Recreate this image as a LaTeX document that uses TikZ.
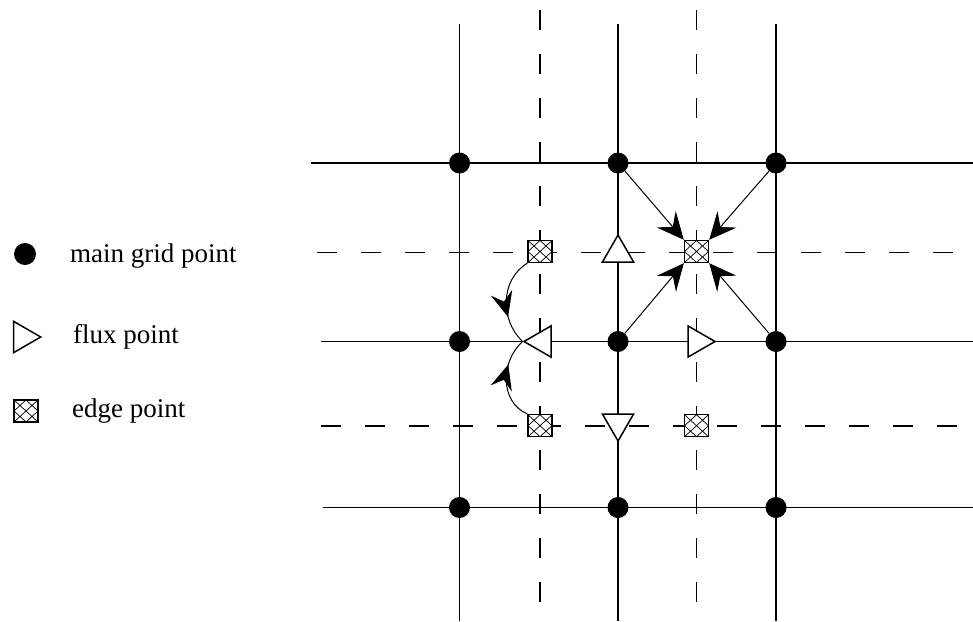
\documentclass[tikz,border=0pt]{standalone}
\usepackage{fontspec}
\setmainfont{Liberation Serif}
\usetikzlibrary{arrows.meta,shapes.geometric,decorations.markings}
\begin{document}
\begin{tikzpicture}[x=1pt,y=-1pt,
  gridline/.style={line width=1.8pt},
  dashline/.style={line width=1.8pt, dash pattern=on 20pt off 24pt},
  gp/.style={circle, fill=black, minimum size=21pt, inner sep=0pt},
  fluxpt/.style={regular polygon, regular polygon sides=3, draw, fill=white, line width=1.5pt, minimum size=36pt, inner sep=0pt},
  edgept/.style={rectangle, draw, fill=white, line width=1.4pt, minimum width=24pt, minimum height=22pt, inner sep=0pt,
    path picture={\draw[line width=0.7pt]
      (path picture bounding box.south west) -- (path picture bounding box.north east)
      (path picture bounding box.north west) -- (path picture bounding box.south east)
      (path picture bounding box.north) -- (path picture bounding box.east) -- (path picture bounding box.south) -- (path picture bounding box.west) -- cycle;}},
  flow/.style={line width=1pt, -{Stealth[length=27pt,width=25pt,inset=10pt]}},
  curveflow/.style={line width=1pt, postaction={decorate},
    decoration={markings, mark=at position #1 with {\arrow{Stealth[length=25pt,width=22pt,inset=9pt]}}}},
  lbl/.style={anchor=base west, inner sep=0pt, font=\fontsize{27}{30}\selectfont},
]
\useasboundingbox (0,0) rectangle (973,621);

% solid grid lines
\draw[gridline] (310.7,163) -- (973,163);
\draw[gridline] (320.7,341.5) -- (973,341.5);
\draw[gridline] (322.7,507.5) -- (973,507.5);
\draw[gridline] (459.5,24) -- (459.5,621);
\draw[gridline] (618,24) -- (618,621);
\draw[gridline] (776,24) -- (776,621);
% dashed grid lines
\draw[dashline] (316.7,252.5) -- (973,252.5);
\draw[dashline] (320.7,425.7) -- (973,425.7);
\draw[dashline] (540,10) -- (540,604);
\draw[dashline] (696.5,10) -- (696.5,604);

% main grid points
\node[gp] (p11) at (459.5,163) {};
\node[gp] (p12) at (618,163) {};
\node[gp] (p13) at (776,163) {};
\node[gp] (p21) at (459.5,341.5) {};
\node[gp] (p22) at (618,341.5) {};
\node[gp] (p23) at (776,341.5) {};
\node[gp] (p31) at (459.5,507.5) {};
\node[gp] (p32) at (618,507.5) {};
\node[gp] (p33) at (776,507.5) {};

% flux points
\node[fluxpt] (fU) at (618,253) {};
\node[fluxpt, shape border rotate=-90] (fR) at (697,341.5) {};
\node[fluxpt, shape border rotate=90] (fL) at (542,341.5) {};
\node[fluxpt, shape border rotate=180] (fD) at (618,423) {};

% edge points
\node[edgept] (eA) at (540,251.5) {};
\node[edgept] (eB) at (696.5,251.5) {};
\node[edgept] (eC) at (540,425.7) {};
\node[edgept] (eD) at (696.5,425.7) {};

% arrows into the central edge point
\draw[flow] (p12) -- (eB.north west);
\draw[flow] (p13) -- (eB.north east);
\draw[flow] (p22) -- (eB.south west);
\draw[flow] (p23) -- (eB.south east);

% curved arrows to the left flux point
\draw[curveflow=0.68] (eA.south west) .. controls (500,280) and (500,320) .. (fL.corner 1);
\draw[curveflow=0.68] (eC.north west) .. controls (500,402) and (500,362) .. (fL.corner 1);

% legend
\node[gp, minimum size=22pt] (lgp) at (25,254) {};
\node[lbl] (lgpt) at (70,262) {main grid point};
\node[fluxpt, shape border rotate=-90] (lfp) at (22.7,337) {};
\node[lbl] (lfpt) at (73,343) {flux point};
\node[edgept] (lep) at (26,411) {};
\node[lbl] (lept) at (72,417) {edge point};
\end{tikzpicture}
\end{document}
